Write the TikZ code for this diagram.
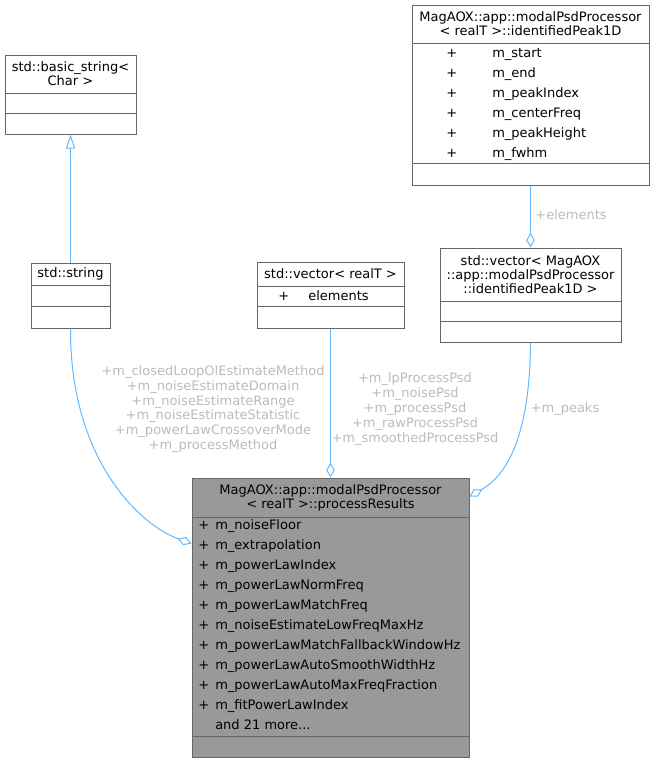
\documentclass[tikz,border=0pt]{standalone}
\usepackage{fontspec}
\setmainfont{DejaVu Sans}
\usepackage{xcolor}
\usepackage{tikz}
\usetikzlibrary{arrows.meta,fit}
\definecolor{edgeblue}{HTML}{63B8FF}
\definecolor{boxline}{HTML}{666666}
\definecolor{procfill}{HTML}{999999}
\definecolor{labelgray}{HTML}{BBBBBB}
\newcommand{\mrow}[2]{\makebox[#1][l]{+}#2}

\begin{document}
\begin{tikzpicture}[
    x=0.75pt, y=-0.75pt,
    font=\fontsize{9.75}{10.5}\selectfont,
    cls/.style={draw=boxline, fill=white, line width=0.75pt, inner sep=0pt},
    title/.style={align=center, inner sep=0pt},
    mem/.style={anchor=base west, inner sep=0pt},
    sep/.style={draw=boxline, line width=0.75pt},
    inh/.style={draw=edgeblue, line width=0.75pt, -{Triangle[open, length=10.5pt, width=7pt]}},
    agg/.style={draw=edgeblue, line width=0.75pt, -{Diamond[open, length=11pt, width=6.5pt]}},
    elabel/.style={align=center, inner sep=0pt, text=labelgray,
                   font=\fontsize{9.75}{11.1}\selectfont}
]
  \useasboundingbox (0,0) rectangle (655,764);

  % std::basic_string< Char >
  \node[cls, fit={(5,55) (136,134)}] (basic) {};
  \draw[sep] (5,93) -- (136,93);
  \draw[sep] (5,113) -- (136,113);
  \node[title] (basicT) at (70.5,74) {std::basic\_string<\\Char >};

  % std::string
  \node[cls, fit={(31,263) (110,328)}] (str) {};
  \draw[sep] (31,285) -- (110,285);
  \draw[sep] (31,306) -- (110,306);
  \node[title] (strT) at (70.5,274) {std::string};

  % std::vector< realT >
  \node[cls, fit={(257,262) (404,328)}] (vecR) {};
  \draw[sep] (257,286) -- (404,286);
  \draw[sep] (257,306) -- (404,306);
  \node[title] (vecRT) at (330.5,273.5) {std::vector< realT >};
  \node[mem] (vecR1) at (278,300) {\mrow{22.5pt}{elements}};

  % identifiedPeak1D
  \node[cls, fit={(412,5) (649,185)}] (peak) {};
  \draw[sep] (412,43) -- (649,43);
  \draw[sep] (412,163) -- (649,163);
  \node[title] (peakT) at (530.5,24) {MagAOX::app::modalPsdProcessor\\< realT >::identifiedPeak1D};
  \node[mem] (peak1) at (446,57.5) {\mrow{34.5pt}{m\_start}};
  \node[mem] (peak2) at (446,77.5) {\mrow{34.5pt}{m\_end}};
  \node[mem] (peak3) at (446,97.5) {\mrow{34.5pt}{m\_peakIndex}};
  \node[mem] (peak4) at (446,117.5) {\mrow{34.5pt}{m\_centerFreq}};
  \node[mem] (peak5) at (446,137.5) {\mrow{34.5pt}{m\_peakHeight}};
  \node[mem] (peak6) at (446,157.5) {\mrow{34.5pt}{m\_fwhm}};

  % std::vector< identifiedPeak1D >
  \node[cls, fit={(440,248) (621,342)}] (vecP) {};
  \draw[sep] (440,301) -- (621,301);
  \draw[sep] (440,321) -- (621,321);
  \node[title] (vecPT) at (530.5,275) {std::vector< MagAOX\\::app::modalPsdProcessor\\::identifiedPeak1D >};

  % processResults
  \node[cls, fill=procfill, fit={(192,478) (469,757)}] (proc) {};
  \draw[sep] (192,517) -- (469,517);
  \draw[sep] (192,736) -- (469,736);
  \node[title] (procT) at (330.5,497.5) {MagAOX::app::modalPsdProcessor\\< realT >::processResults};
  \node[mem] (proc1) at (198,529.5) {\mrow{12.75pt}{m\_noiseFloor}};
  \node[mem] (proc2) at (198,549.5) {\mrow{12.75pt}{m\_extrapolation}};
  \node[mem] (proc3) at (198,569.5) {\mrow{12.75pt}{m\_powerLawIndex}};
  \node[mem] (proc4) at (198,589.5) {\mrow{12.75pt}{m\_powerLawNormFreq}};
  \node[mem] (proc5) at (198,609.5) {\mrow{12.75pt}{m\_powerLawMatchFreq}};
  \node[mem] (proc6) at (198,629.5) {\mrow{12.75pt}{m\_noiseEstimateLowFreqMaxHz}};
  \node[mem] (proc7) at (198,649.5) {\mrow{12.75pt}{m\_powerLawMatchFallbackWindowHz}};
  \node[mem] (proc8) at (198,669.5) {\mrow{12.75pt}{m\_powerLawAutoSmoothWidthHz}};
  \node[mem] (proc9) at (198,689.5) {\mrow{12.75pt}{m\_powerLawAutoMaxFreqFraction}};
  \node[mem] (proc10) at (198,709.5) {\mrow{12.75pt}{m\_fitPowerLawIndex}};
  \node[mem] (procMore) at (215,729.5) {and 21 more...};

  % connectors
  \draw[inh] (str.north) -- (basic.south);
  \draw[agg] (str.south) .. controls (70,460) and (140,525) .. (proc.152);
  \draw[agg] (vecR.south) -- (proc.north);
  \draw[agg] (vecP.south) .. controls (530,425) and (512,472) .. (proc.41);
  \draw[agg] (peak.south) -- (vecP.north);

  % edge labels
  \node[elabel] (lstr) at (213,409) {+m\_closedLoopOlEstimateMethod\\+m\_noiseEstimateDomain\\+m\_noiseEstimateRange\\+m\_noiseEstimateStatistic\\+m\_powerLawCrossoverMode\\+m\_processMethod};
  \node[elabel] (lvec) at (415,409) {+m\_lpProcessPsd\\+m\_noisePsd\\+m\_processPsd\\+m\_rawProcessPsd\\+m\_smoothedProcessPsd};
  \node[elabel] (lpeaks) at (565,409) {+m\_peaks};
  \node[elabel] (lelem) at (571,215) {+elements};
\end{tikzpicture}
\end{document}
